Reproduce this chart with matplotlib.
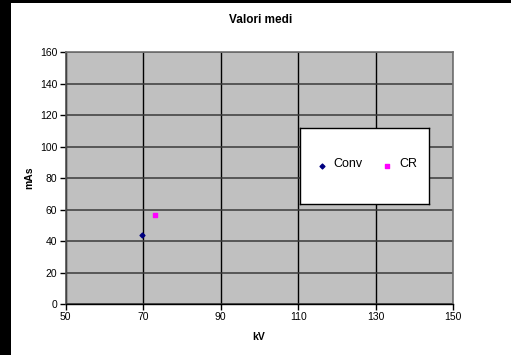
import matplotlib
matplotlib.use("Agg")
import matplotlib.pyplot as plt
import matplotlib.patches as mpatches

plt.rcParams["font.family"] = ["Liberation Sans", "DejaVu Sans"]

# ---- data ----
conv_kv = [69.8]
conv_mas = [43.7]
cr_kv = [73.0]
cr_mas = [56.4]
x_ticks = [50, 70, 90, 110, 130, 150]
y_ticks = [0, 20, 40, 60, 80, 100, 120, 140, 160]

W, H = 511, 355
fig = plt.figure(figsize=(W / 100, H / 100), dpi=100)
fig.patch.set_facecolor("black")
# white page area (black strip on the left and top)
fig.patches.append(mpatches.Rectangle((11 / W, 0), 1 - 11 / W, 1 - 3 / H,
                                      transform=fig.transFigure, facecolor="white",
                                      edgecolor="none", zorder=-10))

ax = fig.add_axes([65.7 / W, 1 - 304 / H, (453.3 - 65.7) / W, (304 - 52.3) / H])
ax.set_facecolor("#C0C0C0")
ax.set_xlim(50, 150)
ax.set_ylim(0, 160)
ax.set_xticks(x_ticks)
ax.set_yticks(y_ticks)
ax.xaxis.grid(True, color="black", linewidth=1.0)
ax.yaxis.grid(True, color="#3a3a3a", linewidth=1.1)
ax.set_axisbelow(True)
for side in ["top", "right"]:
    ax.spines[side].set_color("#707070")
    ax.spines[side].set_linewidth(1.2)
ax.spines["left"].set_color("#505050")
ax.spines["left"].set_linewidth(1.2)
ax.spines["bottom"].set_color("black")
ax.spines["bottom"].set_linewidth(1.0)
ax.tick_params(direction="out", length=4, width=1, labelsize=7.5, pad=2, colors="black")

ax.scatter(conv_kv, conv_mas, marker="D", s=6, color="#000080", zorder=3)
ax.scatter(cr_kv, cr_mas, marker="s", s=9, color="#FF00FF", zorder=3)

fig.text(260.7 / W, 1 - 20 / H, "Valori medi", ha="center", va="center",
         fontsize=8.5, fontweight="bold")
fig.text(259 / W, 1 - 336.7 / H, "kV", ha="center", va="center",
         fontsize=7.5, fontweight="bold")
fig.text(29 / W, 1 - 178 / H, "mAs", ha="center", va="center",
         fontsize=7.5, fontweight="bold", rotation=90)

# ---- legend box ----
lx0, lx1, ly0, ly1 = 300.3, 429, 127.7, 204.3
leg = fig.add_axes([lx0 / W, 1 - ly1 / H, (lx1 - lx0) / W, (ly1 - ly0) / H])
leg.set_facecolor("white")
leg.set_xlim(lx0, lx1)
leg.set_ylim(ly1, ly0)
leg.set_xticks([])
leg.set_yticks([])
for s in leg.spines.values():
    s.set_color("black")
    s.set_linewidth(1.0)
leg.scatter([321.7], [166.3], marker="D", s=6, color="#000080")
leg.scatter([386.5], [166.3], marker="s", s=9, color="#FF00FF")
leg.text(333, 164, "Conv", fontsize=9, va="center", ha="left")
leg.text(399, 164, "CR", fontsize=9, va="center", ha="left")

fig.savefig("out.png", dpi=100, facecolor=fig.get_facecolor())
